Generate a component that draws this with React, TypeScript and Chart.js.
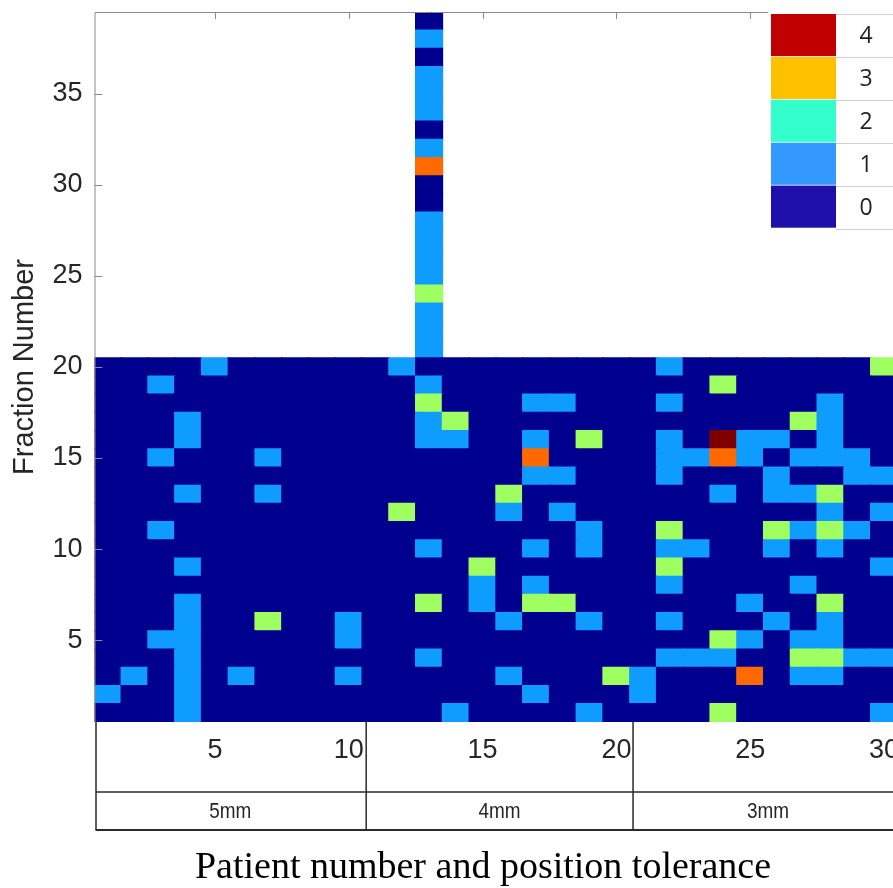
import React, { useEffect, useRef } from 'react';
import { Chart, registerables } from 'chart.js';

Chart.register(...registerables);

// ---- data ----
const patientLabels = ['1','2','3','4','5','6','7','8','9','10','11','12','13','14','15','16','17','18','19','20','21','22','23','24','25','26','27','28','29','30'];
const xTickLabels = ['5', '10', '15', '20', '25', '30'];
const yTickValues = [5, 10, 15, 20, 25, 30, 35];

// columns: values per fraction (index 0 = fraction 1)
const p01 = [0,1,0,0,0, 0,0,0,0,0, 0,0,0,0,0, 0,0,0,0,0];
const p02 = [0,0,1,0,0, 0,0,0,0,0, 0,0,0,0,0, 0,0,0,0,0];
const p03 = [0,0,0,0,1, 0,0,0,0,0, 1,0,0,0,1, 0,0,0,1,0];
const p04 = [1,1,1,1,1, 1,1,0,1,0, 0,0,1,0,0, 1,1,0,0,0];
const p05 = [0,0,0,0,0, 0,0,0,0,0, 0,0,0,0,0, 0,0,0,0,1];
const p06 = [0,0,1,0,0, 0,0,0,0,0, 0,0,0,0,0, 0,0,0,0,0];
const p07 = [0,0,0,0,0, 2,0,0,0,0, 0,0,1,0,1, 0,0,0,0,0];
const p08 = [0,0,0,0,0, 0,0,0,0,0, 0,0,0,0,0, 0,0,0,0,0];
const p09 = [0,0,0,0,0, 0,0,0,0,0, 0,0,0,0,0, 0,0,0,0,0];
const p10 = [0,0,1,0,1, 1,0,0,0,0, 0,0,0,0,0, 0,0,0,0,0];
const p11 = [0,0,0,0,0, 0,0,0,0,0, 0,0,0,0,0, 0,0,0,0,0];
const p12 = [0,0,0,0,0, 0,0,0,0,0, 0,2,0,0,0, 0,0,0,0,1];
const p13 = [0,0,0,1,0, 0,2,0,0,1, 0,0,0,0,0, 1,1,2,1,0, 1,1,1,2,1, 1,1,1,0,0, 3,1,0,1,1, 1,0,1,0];
const p14 = [1,0,0,0,0, 0,0,0,0,0, 0,0,0,0,0, 1,2,0,0,0];
const p15 = [0,0,0,0,0, 0,1,1,2,0, 0,0,0,0,0, 0,0,0,0,0];
const p16 = [0,0,1,0,0, 1,0,0,0,0, 0,1,2,0,0, 0,0,0,0,0];
const p17 = [0,1,0,0,0, 0,2,1,0,1, 0,0,0,1,3, 1,0,1,0,0];
const p18 = [0,0,0,0,0, 0,2,0,0,0, 0,1,0,1,0, 0,0,1,0,0];
const p19 = [1,0,0,0,0, 1,0,0,0,1, 1,0,0,0,0, 2,0,0,0,0];
const p20 = [0,0,2,0,0, 0,0,0,0,0, 0,0,0,0,0, 0,0,0,0,0];
const p21 = [0,1,1,0,0, 0,0,0,0,0, 0,0,0,0,0, 0,0,0,0,0];
const p22 = [0,0,0,1,0, 1,0,1,2,1, 2,0,0,1,1, 1,0,1,0,1];
const p23 = [0,0,0,1,0, 0,0,0,0,1, 0,0,0,0,1, 0,0,0,0,0];
const p24 = [2,0,0,1,2, 0,0,0,0,0, 0,0,1,0,3, 4,0,0,2,0];
const p25 = [0,0,3,0,1, 0,1,0,0,0, 0,0,0,0,1, 1,0,0,0,0];
const p26 = [0,0,0,0,0, 1,0,0,0,1, 2,0,1,1,0, 1,0,0,0,0];
const p27 = [0,0,1,2,1, 0,0,1,0,0, 1,0,1,0,1, 0,2,0,0,0];
const p28 = [0,0,1,2,1, 1,2,0,0,1, 2,1,2,0,1, 1,1,1,0,0];
const p29 = [0,0,0,1,0, 0,0,0,0,0, 1,0,0,1,1, 0,0,0,0,0];
const p30 = [1,0,0,1,0, 0,0,0,1,0, 0,1,0,1,0, 0,0,0,0,2];

const columns = [p01,p02,p03,p04,p05,p06,p07,p08,p09,p10,p11,p12,p13,p14,p15,p16,p17,p18,p19,p20,p21,p22,p23,p24,p25,p26,p27,p28,p29,p30];

const cellColors = ['#00008F', '#0E9CFF', '#A0FF60', '#FF6A00', '#800000'];

const legendValues = ['4', '3', '2', '1', '0'];
const legendColors = ['#C00000', '#FFC000', '#33FFCC', '#3399FF', '#1F10AC'];

const sectionEdges = [0.5, 10.65, 20.62, 30.7];
const sectionLabels = ['5mm', '4mm', '3mm'];

const xTitle = 'Patient number and position tolerance';
const yTitle = 'Fraction Number';

const SANS = '"Liberation Sans", Arial, sans-serif';

const overlayPlugin = {
  id: 'overlay',
  afterDraw(chart: any) {
    const { ctx, chartArea: a, scales } = chart;
    const x = scales.x;
    const y = scales.y;
    const W = chart.width;
    ctx.save();

    // axis frame (left + top)
    ctx.strokeStyle = '#8a8a8a';
    ctx.lineWidth = 1;
    const legendLeft = 768;
    ctx.beginPath();
    ctx.moveTo(a.left + 0.5, a.bottom);
    ctx.lineTo(a.left + 0.5, a.top + 0.5);
    ctx.lineTo(legendLeft, a.top + 0.5);
    ctx.stroke();

    // inward y ticks
    ctx.beginPath();
    yTickValues.forEach((v) => {
      const py = Math.round(y.getPixelForValue(v)) + 0.5;
      ctx.moveTo(a.left, py);
      ctx.lineTo(a.left + 8, py);
    });
    // top ticks
    xTickLabels.forEach((lab) => {
      const idx = patientLabels.indexOf(lab);
      const px = Math.round(x.getPixelForValue(idx)) + 0.5;
      if (px < legendLeft) {
        ctx.moveTo(px, a.top);
        ctx.lineTo(px, a.top + 7);
      }
    });
    ctx.stroke();

    // table below
    const row1 = a.bottom + 70;
    const row2 = a.bottom + 108;
    ctx.strokeStyle = '#2a2a2a';
    ctx.lineWidth = 1.5;
    ctx.beginPath();
    const edgePx = sectionEdges.map((e) => x.getPixelForValue(e - 1));
    edgePx.forEach((px, i) => {
      const xx = i === 0 ? a.left + 1.5 : px;
      ctx.moveTo(xx, a.bottom);
      ctx.lineTo(xx, row2);
    });
    ctx.moveTo(a.left + 1, row1);
    ctx.lineTo(edgePx[edgePx.length - 1], row1);
    ctx.stroke();
    ctx.lineWidth = 2.2;
    ctx.beginPath();
    ctx.moveTo(a.left + 1, row2);
    ctx.lineTo(edgePx[edgePx.length - 1], row2);
    ctx.stroke();

    ctx.fillStyle = '#262626';
    ctx.font = '22px ' + SANS;
    ctx.textAlign = 'center';
    ctx.textBaseline = 'middle';
    sectionLabels.forEach((lab, i) => {
      const l = i === 0 ? a.left : edgePx[i];
      const r = edgePx[i + 1];
      const cx = (l + r) / 2;
      ctx.save();
      ctx.translate(cx, (row1 + row2) / 2 + 1);
      ctx.scale(0.86, 1);
      ctx.fillText(lab, 0, 0);
      ctx.restore();
    });

    // x title
    ctx.fillStyle = '#000';
    ctx.font = '38px "Liberation Serif", "Times New Roman", serif';
    ctx.fillText(xTitle, 483, 868);

    // legend
    ctx.fillStyle = '#fff';
    ctx.fillRect(legendLeft, 0, W - legendLeft, 232);
    const top = 14;
    const rowH = 42.9;
    const sx = 771;
    const sw = 65;
    legendValues.forEach((lab, i) => {
      const ry = top + i * rowH;
      ctx.fillStyle = legendColors[i];
      ctx.fillRect(sx, ry, sw, rowH - 0.8);
      ctx.fillStyle = '#222';
      ctx.font = '23px "Open Sans", ' + SANS;
      ctx.fillText(lab, 866, ry + rowH / 2 + 1);
    });
    ctx.strokeStyle = '#cfcfcf';
    ctx.lineWidth = 1;
    ctx.beginPath();
    for (let i = 0; i <= legendValues.length; i++) {
      const ry = Math.round(top + i * rowH) + 0.5;
      ctx.moveTo(sx + sw, ry);
      ctx.lineTo(W, ry);
    }
    ctx.stroke();

    ctx.restore();
  },
};

export default function App() {
  const ref = useRef<HTMLCanvasElement | null>(null);

  useEffect(() => {
    if (!ref.current) return;
    const maxRows = Math.max(...columns.map((c) => c.length));
    const datasets: any[] = [];
    for (let r = 0; r < maxRows; r++) {
      const f = r + 1;
      datasets.push({
        label: 'Fraction ' + f,
        data: columns.map((c) => (c[r] === undefined ? null : [f - 0.5, f + 0.5])),
        backgroundColor: columns.map((c) => (c[r] === undefined ? 'rgba(0,0,0,0)' : cellColors[c[r]])),
        borderWidth: 0,
        inflateAmount: 0.7,
        grouped: false,
        categoryPercentage: 1,
        barPercentage: 1,
      });
    }

    const chart = new Chart(ref.current, {
      type: 'bar',
      data: { labels: patientLabels, datasets },
      options: {
        animation: false,
        responsive: false,
        devicePixelRatio: 1,
        layout: { padding: { top: 12, left: 0, right: 62.5, bottom: 0 } },
        plugins: { legend: { display: false }, tooltip: { enabled: false }, title: { display: false } },
        scales: {
          x: {
            type: 'category',
            grid: { display: false, drawTicks: false },
            border: { display: false },
            ticks: {
              autoSkip: false,
              maxRotation: 0,
              minRotation: 0,
              padding: 12,
              color: '#262626',
              font: { size: 27, family: SANS },
              callback: (_v: any, i: number) => (xTickLabels.includes(patientLabels[i]) ? patientLabels[i] : ''),
            },
            afterFit: (s: any) => { s.height = 166; s.paddingLeft = 0; s.paddingRight = 0; },
          },
          y: {
            type: 'linear',
            min: 0.5,
            max: 39.5,
            grid: { display: false, drawTicks: false },
            border: { display: false },
            afterBuildTicks: (s: any) => { s.ticks = yTickValues.map((v) => ({ value: v })); },
            ticks: {
              padding: 12,
              color: '#262626',
              font: { size: 27, family: SANS },
            },
            title: {
              display: true,
              text: yTitle,
              color: '#262626',
              font: { size: 29, family: SANS },
              padding: { top: 8, bottom: 0 },
            },
            afterFit: (s: any) => { s.width = 94.5; s.paddingTop = 0; s.paddingBottom = 0; },
          },
        },
      },
      plugins: [overlayPlugin],
    });
    return () => chart.destroy();
  }, []);

  return (
    <div style={{ position: 'fixed', left: 0, top: 0, width: 893, height: 888, overflow: 'hidden', background: '#fff' }}>
      <canvas ref={ref} width={960} height={888} style={{ display: 'block', width: 960, height: 888 }} />
    </div>
  );
}
